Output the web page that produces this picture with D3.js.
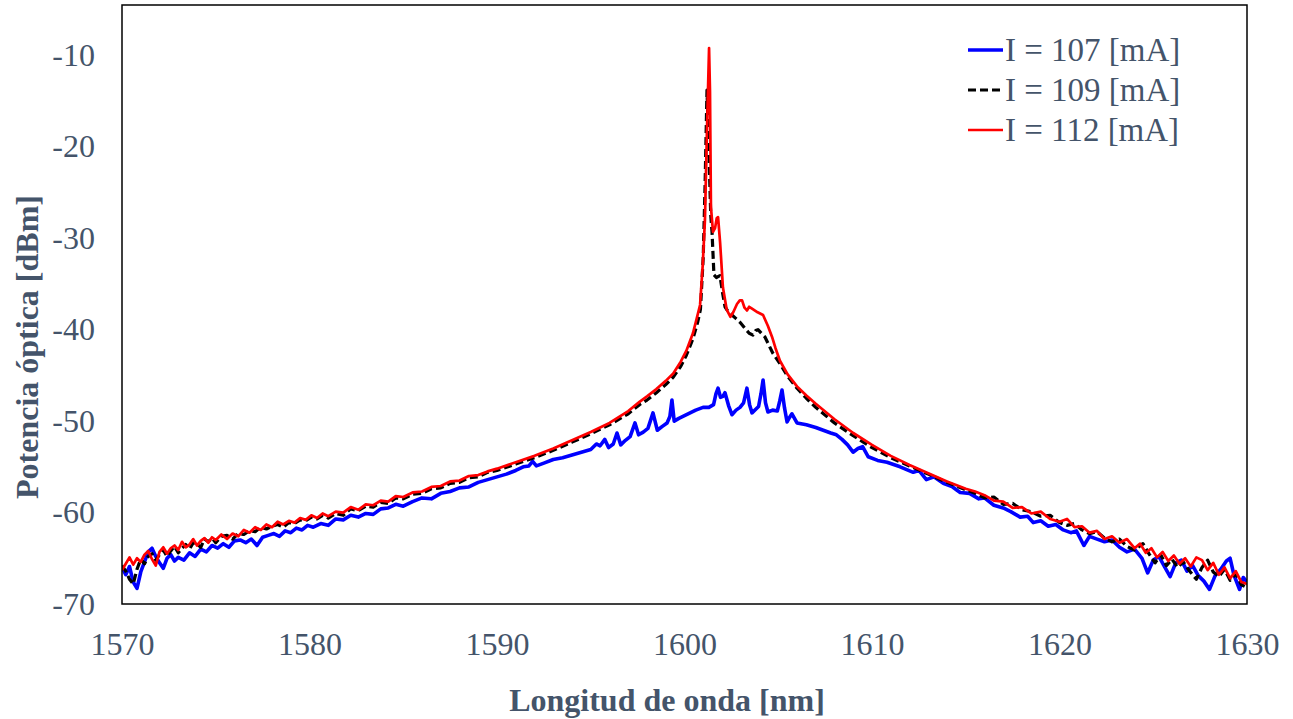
<!DOCTYPE html>
<html>
<head>
<meta charset="utf-8">
<script src="https://cdn.jsdelivr.net/npm/d3@7"></script>
<style>
  body { margin: 0; background: #fff; }
  text { font-family: "Liberation Serif", "Times New Roman", serif; fill: #44546A; }
</style>
</head>
<body>
<script>
// spectra: [wavelength nm, power dBm]
var serie107 = [
  [1570.0,-66.0],[1570.2,-66.8],[1570.4,-65.9],[1570.6,-67.6],[1570.8,-68.3],[1571.0,-66.5],[1571.2,-65.4],[1571.4,-64.3],[1571.6,-63.9],[1571.8,-64.8],
  [1572.0,-65.5],[1572.2,-66.1],[1572.4,-65.0],[1572.6,-64.6],[1572.8,-65.3],[1573.0,-64.9],[1573.3,-65.2],[1573.6,-64.4],[1573.9,-64.8],[1574.2,-64.0],
  [1574.5,-64.3],[1574.8,-63.6],[1575.1,-63.9],[1575.4,-63.4],[1575.7,-63.8],[1576.0,-63.1],[1576.3,-63.0],[1576.6,-63.3],[1576.9,-62.9],[1577.2,-63.6],
  [1577.5,-62.7],[1577.8,-62.5],[1578.1,-62.3],[1578.4,-62.6],[1578.7,-62.0],[1579.0,-62.2],[1579.3,-61.7],[1579.6,-61.9],[1579.9,-61.4],[1580.2,-61.6],
  [1580.6,-61.2],[1581.0,-61.4],[1581.4,-60.7],[1581.8,-60.8],[1582.2,-60.3],[1582.6,-60.5],[1583.0,-60.1],[1583.4,-60.2],[1583.8,-59.6],[1584.2,-59.5],
  [1584.6,-59.1],[1585.0,-59.3],[1585.5,-58.8],[1586.0,-58.4],[1586.5,-58.5],[1587.0,-57.9],[1587.5,-57.7],[1588.0,-57.3],[1588.5,-57.2],[1589.0,-56.7],
  [1589.5,-56.4],[1590.0,-56.1],[1590.5,-55.8],[1591.0,-55.4],[1591.4,-55.0],[1591.7,-54.9],[1591.9,-54.4],[1592.1,-54.9],[1592.5,-54.6],[1593.0,-54.2],
  [1593.5,-54.0],[1594.0,-53.7],[1594.5,-53.4],[1595.0,-53.1],[1595.3,-52.5],[1595.5,-52.7],[1595.75,-52.0],[1595.95,-52.9],[1596.2,-52.5],[1596.4,-51.3],
  [1596.6,-52.6],[1596.85,-52.1],[1597.1,-51.7],[1597.36,-50.2],[1597.55,-51.5],[1597.8,-51.2],[1598.05,-50.8],[1598.32,-49.1],[1598.55,-51.0],[1598.8,-50.6],
  [1599.07,-50.2],[1599.22,-49.5],[1599.33,-47.7],[1599.45,-50.0],[1599.7,-49.7],[1600.0,-49.4],[1600.3,-49.1],[1600.6,-48.8],[1600.99,-48.5],[1601.3,-48.5],
  [1601.55,-48.2],[1601.68,-47.0],[1601.79,-46.4],[1601.92,-47.4],[1602.05,-47.3],[1602.16,-46.9],[1602.35,-48.3],[1602.53,-49.3],[1602.75,-48.8],[1602.96,-48.5],
  [1603.15,-48.0],[1603.33,-46.4],[1603.47,-48.2],[1603.6,-49.1],[1603.8,-48.7],[1603.95,-48.4],[1604.08,-47.0],[1604.19,-45.5],[1604.32,-48.0],[1604.45,-49.0],
  [1604.7,-48.8],[1604.95,-48.9],[1605.08,-47.8],[1605.2,-46.6],[1605.33,-48.5],[1605.47,-50.1],[1605.6,-49.6],[1605.73,-49.2],[1606.0,-50.2],[1606.5,-50.4],
  [1607.0,-50.7],[1607.4,-51.0],[1607.8,-51.3],[1608.1,-51.5],[1608.4,-52.0],[1608.7,-52.6],[1608.99,-53.4],[1609.25,-53.0],[1609.5,-52.8],[1609.8,-53.9],
  [1610.3,-54.3],[1610.8,-54.5],[1611.5,-55.0],[1612.2,-55.6],[1612.5,-55.4],[1612.9,-56.4],[1613.3,-56.1],[1613.8,-56.8],[1614.3,-57.2],[1614.7,-57.8],
  [1615.2,-57.9],[1615.7,-58.5],[1616.0,-58.4],[1616.5,-59.2],[1617.0,-59.5],[1617.4,-59.9],[1617.9,-60.5],[1618.3,-60.4],[1618.6,-61.1],[1619.0,-60.9],
  [1619.4,-61.5],[1619.8,-61.3],[1620.2,-61.9],[1620.6,-62.2],[1620.9,-62.0],[1621.3,-63.6],[1621.6,-62.6],[1622.0,-62.9],[1622.4,-63.2],[1622.8,-63.0],
  [1623.2,-63.8],[1623.6,-64.3],[1624.0,-64.0],[1624.4,-65.0],[1624.7,-66.6],[1625.0,-65.2],[1625.3,-64.8],[1625.6,-65.9],[1625.9,-67.0],[1626.2,-65.5],
  [1626.5,-65.2],[1626.8,-66.4],[1627.1,-65.8],[1627.4,-66.9],[1627.7,-67.5],[1628.0,-68.4],[1628.3,-66.9],[1628.6,-66.2],[1628.9,-65.3],[1629.1,-65.0],
  [1629.3,-66.8],[1629.6,-68.4],[1629.8,-67.1],[1630.0,-67.6]
];

var serie109 = [
  [1570.0,-65.8],[1570.2,-66.4],[1570.4,-67.3],[1570.6,-67.8],[1570.8,-66.2],[1571.0,-65.1],[1571.2,-65.6],[1571.4,-64.8],[1571.6,-64.5],[1571.8,-65.2],
  [1572.0,-64.6],[1572.2,-64.1],[1572.4,-64.8],[1572.6,-64.2],[1572.8,-63.7],[1573.0,-64.4],[1573.2,-63.9],[1573.4,-63.5],[1573.6,-64.0],[1573.8,-63.3],
  [1574.0,-63.4],[1574.2,-63.8],[1574.4,-62.9],[1574.6,-63.2],[1574.8,-62.8],[1575.0,-63.3],[1575.3,-62.6],[1575.6,-62.5],[1575.9,-62.9],[1576.2,-62.3],
  [1576.5,-62.4],[1576.8,-62.0],[1577.1,-62.1],[1577.4,-61.6],[1577.7,-61.8],[1578.0,-61.5],[1578.3,-61.3],[1578.6,-61.6],[1578.9,-61.1],[1579.2,-61.2],
  [1579.5,-60.8],[1579.8,-60.9],[1580.1,-60.5],[1580.4,-60.7],[1580.7,-60.3],[1581.0,-60.6],[1581.4,-60.1],[1581.8,-60.3],[1582.2,-59.6],[1582.6,-59.8],
  [1583.0,-59.3],[1583.4,-59.4],[1583.8,-58.9],[1584.2,-59.0],[1584.6,-58.4],[1585.0,-58.5],[1585.5,-58.0],[1586.0,-57.9],[1586.5,-57.4],[1587.0,-57.3],
  [1587.5,-56.8],[1588.0,-56.7],[1588.5,-56.2],[1589.0,-56.1],[1589.5,-55.6],[1590.0,-55.4],[1591.0,-54.7],[1592.0,-54.0],[1593.0,-53.2],[1594.0,-52.3],
  [1595.0,-51.4],[1596.0,-50.4],[1597.0,-49.2],[1597.6,-48.2],[1598.0,-47.7],[1598.5,-46.9],[1599.0,-46.0],[1599.4,-45.2],[1599.8,-44.0],[1600.1,-42.8],
  [1600.45,-41.0],[1600.7,-39.2],[1600.85,-37.8],[1601.0,-32.0],[1601.1,-24.0],[1601.2,-13.8],[1601.3,-20.5],[1601.4,-27.5],[1601.47,-29.4],[1601.57,-34.0],
  [1601.7,-34.3],[1601.89,-34.1],[1602.05,-36.2],[1602.16,-37.5],[1602.35,-38.1],[1602.53,-38.4],[1602.75,-38.8],[1602.96,-39.2],[1603.2,-39.8],[1603.45,-40.4],
  [1603.65,-40.6],[1603.8,-40.1],[1603.92,-40.0],[1604.1,-40.4],[1604.29,-40.8],[1604.5,-41.7],[1604.72,-42.6],[1605.09,-43.7],[1605.5,-45.1],[1606.0,-46.4],
  [1606.5,-47.5],[1607.0,-48.5],[1608.0,-50.2],[1609.0,-51.6],[1610.0,-52.9],[1611.0,-54.0],[1612.0,-54.9],[1613.0,-55.8],[1614.0,-56.7],[1615.0,-57.5],
  [1615.5,-57.9],[1616.0,-58.4],[1616.5,-58.3],[1617.0,-59.1],[1617.5,-59.0],[1618.0,-59.7],[1618.5,-59.9],[1619.0,-60.4],[1619.5,-60.3],[1620.0,-61.1],
  [1620.4,-61.4],[1620.8,-61.2],[1621.2,-61.9],[1621.6,-62.3],[1622.0,-62.1],[1622.4,-62.8],[1622.8,-63.2],[1623.2,-62.9],[1623.6,-63.7],[1624.0,-64.1],
  [1624.45,-63.4],[1624.8,-64.6],[1625.1,-65.5],[1625.4,-64.6],[1625.7,-65.8],[1626.0,-65.1],[1626.3,-66.0],[1626.6,-65.4],[1626.9,-66.3],[1627.3,-67.3],
  [1627.6,-66.0],[1627.9,-65.2],[1628.2,-66.5],[1628.5,-67.0],[1628.8,-66.2],[1629.1,-67.4],[1629.4,-66.7],[1629.7,-67.9],[1630.0,-68.2]
];

var serie112 = [
  [1570.0,-66.3],[1570.2,-65.6],[1570.4,-64.9],[1570.6,-65.7],[1570.8,-65.0],[1571.0,-65.4],[1571.2,-64.6],[1571.4,-64.2],[1571.6,-65.1],[1571.8,-65.8],
  [1572.0,-64.3],[1572.2,-63.8],[1572.4,-64.5],[1572.6,-63.9],[1572.8,-63.6],[1573.0,-64.1],[1573.2,-63.2],[1573.4,-63.8],[1573.6,-63.5],[1573.8,-62.9],
  [1574.0,-63.6],[1574.2,-63.1],[1574.4,-62.8],[1574.6,-63.3],[1574.8,-62.7],[1575.0,-63.0],[1575.3,-62.4],[1575.6,-62.9],[1575.9,-62.3],[1576.2,-62.6],
  [1576.5,-61.9],[1576.8,-62.2],[1577.1,-61.6],[1577.4,-61.9],[1577.7,-61.3],[1578.0,-61.6],[1578.3,-61.0],[1578.6,-61.3],[1578.9,-60.9],[1579.2,-61.1],
  [1579.5,-60.6],[1579.8,-60.8],[1580.1,-60.3],[1580.4,-60.6],[1580.7,-60.1],[1581.0,-60.4],[1581.4,-59.9],[1581.8,-60.0],[1582.2,-59.4],[1582.6,-59.7],
  [1583.0,-59.1],[1583.4,-59.2],[1583.8,-58.7],[1584.2,-58.8],[1584.6,-58.2],[1585.0,-58.3],[1585.5,-57.8],[1586.0,-57.7],[1586.5,-57.2],[1587.0,-57.1],
  [1587.5,-56.6],[1588.0,-56.5],[1588.5,-56.0],[1589.0,-55.9],[1589.5,-55.5],[1590.0,-55.2],[1591.0,-54.5],[1592.0,-53.8],[1593.0,-53.0],[1594.0,-52.1],
  [1595.0,-51.2],[1596.0,-50.2],[1597.0,-48.9],[1597.6,-47.9],[1598.0,-47.3],[1598.5,-46.5],[1599.0,-45.6],[1599.4,-44.8],[1599.8,-43.5],[1600.1,-42.3],
  [1600.45,-40.4],[1600.65,-38.8],[1600.83,-37.3],[1600.97,-33.0],[1601.09,-28.0],[1601.2,-18.0],[1601.31,-9.2],[1601.36,-14.0],[1601.41,-26.6],[1601.52,-29.3],
  [1601.63,-28.9],[1601.72,-27.8],[1601.79,-27.7],[1601.9,-30.5],[1602.05,-35.4],[1602.25,-37.8],[1602.45,-38.6],[1602.6,-38.1],[1602.8,-37.2],[1602.95,-36.8],
  [1603.07,-36.8],[1603.2,-37.6],[1603.33,-37.9],[1603.45,-37.5],[1603.6,-37.7],[1603.9,-38.1],[1604.19,-38.4],[1604.45,-39.6],[1604.67,-40.8],[1604.85,-42.0],
  [1605.09,-43.4],[1605.5,-44.9],[1606.0,-46.2],[1606.5,-47.2],[1607.0,-48.1],[1608.0,-49.8],[1609.0,-51.3],[1610.0,-52.6],[1611.0,-53.8],[1612.0,-54.8],
  [1613.0,-55.7],[1614.0,-56.6],[1615.0,-57.4],[1615.5,-57.7],[1616.0,-58.1],[1616.5,-58.7],[1617.0,-58.8],[1617.5,-59.5],[1618.0,-59.4],[1618.5,-60.1],
  [1619.0,-59.9],[1619.5,-60.7],[1620.0,-61.0],[1620.4,-60.7],[1620.8,-61.6],[1621.2,-61.5],[1621.6,-62.2],[1622.0,-62.0],[1622.4,-62.9],[1622.8,-62.6],
  [1623.2,-63.3],[1623.6,-62.9],[1624.0,-63.9],[1624.3,-63.4],[1624.6,-64.4],[1624.9,-63.9],[1625.2,-64.9],[1625.5,-64.3],[1625.8,-65.3],[1626.1,-64.7],
  [1626.4,-65.6],[1626.7,-65.0],[1627.0,-65.9],[1627.3,-64.9],[1627.6,-65.2],[1627.9,-66.3],[1628.2,-65.5],[1628.5,-66.8],[1628.8,-66.0],[1629.1,-67.2],
  [1629.4,-66.4],[1629.7,-67.6],[1630.0,-67.8]
];

var seriesnames = ["I = 107 [mA]", "I = 109 [mA]", "I = 112 [mA]"];
var xticks = [1570, 1580, 1590, 1600, 1610, 1620, 1630];
var yticks = [-10, -20, -30, -40, -50, -60, -70];

var width = 1293, height = 719;
var padding = { left: 122, up: 5, down: 115, right: 46 };

var svg = d3.select("body").append("svg")
    .attr("width", width).attr("height", height);

var xscale = d3.scaleLinear()
    .domain([1570, 1630])
    .range([padding.left, width - padding.right]);
var yscale = d3.scaleLinear()
    .domain([-70, -4.5])
    .range([height - padding.down, padding.up]);

// plain hyphen for negatives, like the original
var plain = function(d) { return String(d); };

var xaxis = d3.axisBottom(xscale).tickValues(xticks).tickSize(0).tickPadding(28).tickFormat(plain);
var yaxis = d3.axisLeft(yscale).tickValues(yticks).tickSize(0).tickPadding(27).tickFormat(plain);

svg.append("g").attr("class", "xaxis")
    .attr("transform", "translate(0," + (height - padding.down) + ")")
    .call(xaxis);
svg.append("g").attr("class", "yaxis")
    .attr("transform", "translate(" + padding.left + ",0)")
    .call(yaxis);

svg.selectAll(".xaxis text, .yaxis text")
    .style("font-size", "32px")
    .style("fill", "#44546A")
    .style("font-family", '"Liberation Serif", serif');
svg.selectAll(".domain").remove();

// axis titles
svg.append("text")
    .attr("x", 667).attr("y", 711)
    .attr("text-anchor", "middle")
    .style("font-size", "32px").style("font-weight", "bold")
    .text("Longitud de onda [nm]");

svg.append("text")
    .attr("transform", "translate(38," + 347 + ") rotate(-90)")
    .attr("text-anchor", "middle")
    .style("font-size", "32px").style("font-weight", "bold")
    .text("Potencia óptica [dBm]");

var line = d3.line()
    .x(function(d) { return xscale(d[0]); })
    .y(function(d) { return yscale(d[1]); });

svg.append("defs").append("clipPath").attr("id", "clip")
  .append("rect")
    .attr("x", padding.left).attr("y", padding.up)
    .attr("width", width - padding.left - padding.right)
    .attr("height", height - padding.up - padding.down);

var plot = svg.append("g").attr("clip-path", "url(#clip)");

var styles = [
  { color: "#0000FF", w: 3.6, dash: null },
  { color: "#000000", w: 3.2, dash: "8,4" },
  { color: "#FF0000", w: 2.7, dash: null }
];
var alldata = [serie107, serie109, serie112];

alldata.forEach(function(s, i) {
  plot.append("path")
      .datum(s)
      .attr("fill", "none")
      .attr("stroke", styles[i].color)
      .attr("stroke-width", styles[i].w)
      .attr("stroke-dasharray", styles[i].dash)
      .attr("stroke-linejoin", "round")
      .attr("d", line);
});

// frame
svg.append("rect")
    .attr("x", padding.left).attr("y", padding.up)
    .attr("width", width - padding.left - padding.right)
    .attr("height", height - padding.up - padding.down)
    .attr("fill", "none").attr("stroke", "#000").attr("stroke-width", 1.5);

// legend
var legend = svg.append("g").attr("class", "legend");
seriesnames.forEach(function(name, i) {
  var ly = 50 + i * 40;
  legend.append("line")
      .attr("x1", 968).attr("x2", 1003).attr("y1", ly).attr("y2", ly)
      .attr("stroke", styles[i].color)
      .attr("stroke-width", styles[i].w)
      .attr("stroke-dasharray", styles[i].dash);
  legend.append("text")
      .attr("x", 1005).attr("y", ly + 11)
      .style("font-size", "33px")
      .text(name);
});
</script>
</body>
</html>
